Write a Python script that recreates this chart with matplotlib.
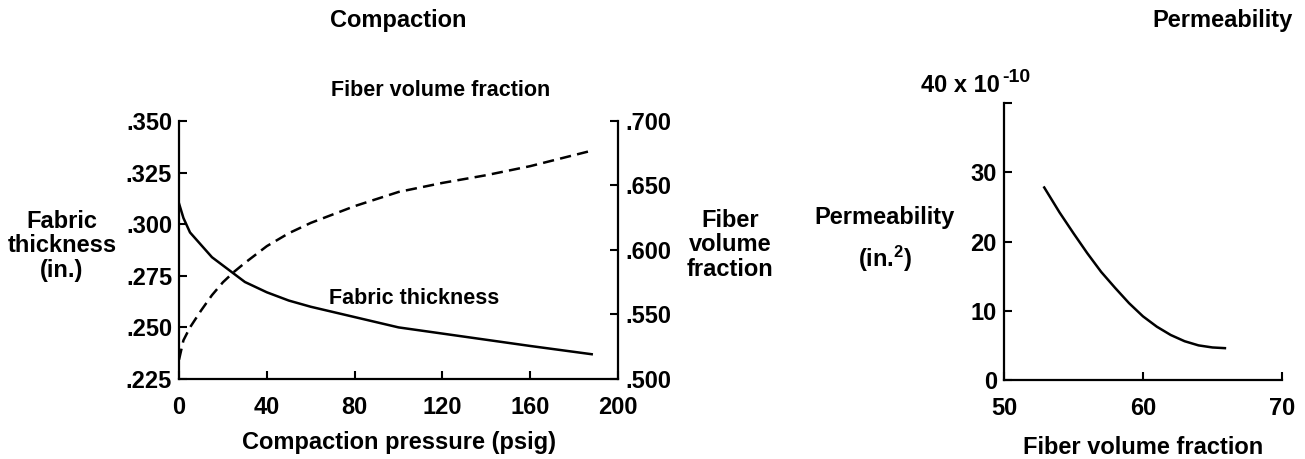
import matplotlib
matplotlib.use('Agg')
import matplotlib.pyplot as plt

# Compaction data
pressure = [0, 2, 5, 10, 15, 20, 25, 30, 40, 50, 60, 80, 100, 120, 140, 160, 188]
thickness = [.310, .303, .296, .290, .284, .280, .276, .272, .267, .263, .260, .255, .250, .247, .244, .241, .237]
fiber_frac = [.515, .530, .540, .553, .565, .575, .583, .590, .603, .613, .621, .634, .645, .652, .658, .665, .677]

# Permeability data
vf = [52.9, 54, 55, 56, 57, 58, 59, 60, 61, 62, 63, 64, 65, 65.9]
perm = [27.8, 24.2, 21.2, 18.3, 15.6, 13.3, 11.1, 9.2, 7.7, 6.5, 5.6, 5.0, 4.7, 4.6]

left_ticks = [.225, .250, .275, .300, .325, .350]
right_ticks = [.500, .550, .600, .650, .700]
x_ticks = [0, 40, 80, 120, 160, 200]

plt.rcParams['font.family'] = 'Liberation Sans'
plt.rcParams['font.weight'] = 'bold'
plt.rcParams['axes.labelweight'] = 'bold'
plt.rcParams['font.size'] = 17
plt.rcParams['mathtext.fontset'] = 'custom'
plt.rcParams['mathtext.rm'] = 'Liberation Sans:bold'
plt.rcParams['mathtext.it'] = 'Liberation Sans:bold'
plt.rcParams['mathtext.bf'] = 'Liberation Sans:bold'

fig = plt.figure(figsize=(13.05, 4.59), dpi=100)

def style_ticks(ax):
    ax.tick_params(direction='in', length=6, width=1.5, labelsize=17)
    ax.tick_params(axis='x', pad=12)
    ax.tick_params(axis='y', pad=5)

# ---- Compaction ----
ax1 = fig.add_axes([0.1372, 0.1743, 0.3364, 0.5621])
ax1.plot(pressure, thickness, color='black', lw=1.8)
ax1.set_xlim(0, 200)
ax1.set_ylim(.225, .350)
ax1.set_xticks(x_ticks)
ax1.set_yticks(left_ticks)
ax1.set_yticklabels(['.225', '.250', '.275', '.300', '.325', '.350'])
ax1.spines['top'].set_visible(False)
ax1.spines['right'].set_visible(False)
for s in ['left', 'bottom']:
    ax1.spines[s].set_linewidth(1.6)
style_ticks(ax1)
ax1.set_xlabel('Compaction pressure (psig)', labelpad=9)

ax2 = ax1.twinx()
ax2.plot(pressure, fiber_frac, color='black', lw=1.8, linestyle=(0, (4.5, 2.5)))
ax2.set_ylim(.500, .700)
ax2.set_yticks(right_ticks)
ax2.set_yticklabels(['.500', '.550', '.600', '.650', '.700'])
for s in ['top', 'left', 'bottom']:
    ax2.spines[s].set_visible(False)
ax2.spines['right'].set_linewidth(1.6)
style_ticks(ax2)

ax1.text(119, .365, 'Fiber volume fraction', ha='center', va='center',
         fontsize=15.5, clip_on=False)
ax1.text(107, .264, 'Fabric thickness', ha='center', va='center', fontsize=15.5)

fig.text(62 / 1305, 1 - 246 / 459, 'Fabric\nthickness\n(in.)', ha='center', va='center',
         linespacing=1.1)
fig.text(730 / 1305, 1 - 245 / 459, 'Fiber\nvolume\nfraction', ha='center', va='center',
         linespacing=1.1)
fig.text(398 / 1305, 1 - 20 / 459, 'Compaction', ha='center', va='center')

# ---- Permeability ----
ax3 = fig.add_axes([0.7693, 0.1721, 0.2130, 0.6035])
ax3.plot(vf, perm, color='black', lw=1.8)
ax3.set_xlim(50, 70)
ax3.set_ylim(0, 40)
ax3.set_xticks([50, 60, 70])
ax3.set_yticks([0, 10, 20, 30, 40])
ax3.set_yticklabels(['0', '10', '20', '30', ''])
ax3.spines['top'].set_visible(False)
ax3.spines['right'].set_visible(False)
for s in ['left', 'bottom']:
    ax3.spines[s].set_linewidth(1.6)
style_ticks(ax3)
ax3.set_xlabel('Fiber volume fraction', labelpad=12)
ax3.text(49.7, 41.6, '40 x 10', ha='right', va='baseline', clip_on=False)
ax3.text(49.85, 43.0, '-10', ha='left', va='baseline', fontsize=14, clip_on=False)

fig.text(885 / 1305, 1 - 240 / 459, 'Permeability\n(in.$^2$)', ha='center', va='center',
         linespacing=1.6)
fig.text(1222 / 1305, 1 - 20 / 459, 'Permeability', ha='center', va='center')

fig.savefig('out.png', dpi=100)
